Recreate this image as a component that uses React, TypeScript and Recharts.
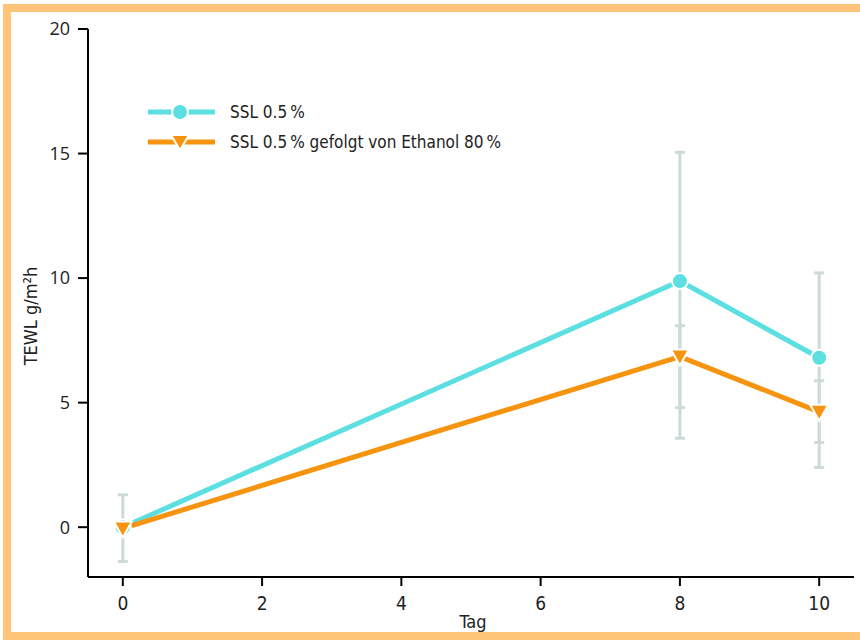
import React from 'react';
import { LineChart, Line, XAxis, YAxis, ErrorBar } from 'recharts';

const days = [0, 8, 10];
const sslValues = [0, 9.88, 6.8];
const sslErrLow = [1.38, 5.08, 3.4];
const sslErrHigh = [1.3, 5.17, 3.41];
const ethValues = [-0.05, 6.85, 4.63];
const ethErrLow = [0, 3.28, 2.23];
const ethErrHigh = [0, 1.24, 1.25];
const xTicks = [0, 2, 4, 6, 8, 10];
const yTicks = [0, 5, 10, 15, 20];
const seriesNames = ['SSL 0.5\u2009%', 'SSL 0.5\u2009% gefolgt von Ethanol 80\u2009%'];

const CYAN = '#5CDFE0';
const ORANGE = '#F7940F';
const GREY = '#CDDADA';
const BORDER = '#FEC478';
const COND = '"DejaVu Sans Condensed", "DejaVu Sans", sans-serif';

const data = days.map((d, i) => ({
  day: d,
  ssl: sslValues[i],
  eth: ethValues[i],
  sslErr: [sslErrLow[i], sslErrHigh[i]],
  ethErr: [ethErrLow[i], ethErrHigh[i]],
}));

const Triangle = (props: any) => {
  const { cx, cy } = props;
  if (cx == null || cy == null) return null;
  return (
    <polygon
      points={`${cx - 9},${cy - 7} ${cx + 9},${cy - 7} ${cx},${cy + 9}`}
      fill={ORANGE}
      stroke="#fff"
      strokeWidth={2}
    />
  );
};

const LegendBox = () => (
  <div
    style={{
      position: 'absolute',
      left: 140,
      top: 97,
      fontFamily: COND,
      fontStretch: 'condensed',
      fontSize: 17,
      color: '#222',
      whiteSpace: 'nowrap',
    }}
  >
    <div style={{ display: 'flex', alignItems: 'center', height: 30 }}>
      <svg width={90} height={24}>
        <line x1={8} y1={12} x2={75} y2={12} stroke={CYAN} strokeWidth={5} />
        <circle cx={40} cy={12} r={8} fill={CYAN} stroke="#fff" strokeWidth={2} />
      </svg>
      <span>{seriesNames[0]}</span>
    </div>
    <div style={{ display: 'flex', alignItems: 'center', height: 30 }}>
      <svg width={90} height={24}>
        <line x1={8} y1={12} x2={75} y2={12} stroke={ORANGE} strokeWidth={5} />
        <polygon points="31,5 49,5 40,20" fill={ORANGE} stroke="#fff" strokeWidth={2} />
      </svg>
      <span>{seriesNames[1]}</span>
    </div>
  </div>
);

export default function App() {
  return (
    <div style={{ position: 'absolute', left: 0, top: 0, width: 860, height: 642, overflow: 'hidden', background: '#fff' }}>
      <div
        style={{
          position: 'absolute',
          left: 3,
          top: 4,
          width: 900,
          height: 636,
          boxSizing: 'border-box',
          border: `8px solid ${BORDER}`,
        }}
      />
      <div style={{ position: 'absolute', left: 0, top: 0 }}>
        <LineChart width={860} height={642} data={data} margin={{ top: 29, right: 6, bottom: 25, left: 28 }}>
          <XAxis
            dataKey="day"
            type="number"
            domain={[-0.5, 10.5]}
            ticks={xTicks}
            allowDataOverflow
            axisLine={{ stroke: '#000', strokeWidth: 2 }}
            tickLine={{ stroke: '#000', strokeWidth: 2 }}
            tickSize={9}
            tickMargin={11}
            height={40}
            tick={{ fill: '#222', fontSize: 19, fontFamily: COND, style: { fontStretch: 'condensed' } }}
            label={(p: any) => {
              const vb = p.viewBox;
              return (
                <text
                  x={vb.x + vb.width / 2 + 2}
                  y={628}
                  textAnchor="middle"
                  fill="#222"
                  fontSize={18}
                  fontFamily={COND}
                  style={{ fontStretch: 'condensed' }}
                >
                  Tag
                </text>
              );
            }}
          />
          <YAxis
            type="number"
            domain={[-2, 20]}
            ticks={yTicks}
            allowDataOverflow
            width={60}
            axisLine={{ stroke: '#000', strokeWidth: 2 }}
            tickLine={{ stroke: '#000', strokeWidth: 2 }}
            tickSize={10}
            tickMargin={8}
            tick={{ fill: '#222', fontSize: 18, fontFamily: '"Open Sans", sans-serif' }}
            label={(p: any) => {
              const vb = p.viewBox;
              const cx = 37;
              const cy = vb.y + vb.height / 2 + 13;
              return (
                <text
                  x={cx}
                  y={cy}
                  transform={`rotate(-90, ${cx}, ${cy})`}
                  textAnchor="middle"
                  fill="#222"
                  fontSize={18}
                  fontFamily={COND}
                  style={{ fontStretch: 'condensed' }}
                >
                  TEWL g/m²h
                </text>
              );
            }}
          />
          <Line
            type="linear"
            dataKey="ssl"
            name={seriesNames[0]}
            stroke={CYAN}
            strokeWidth={5}
            dot={{ r: 8, fill: CYAN, stroke: '#fff', strokeWidth: 2 }}
            activeDot={false}
            isAnimationActive={false}
          >
            <ErrorBar dataKey="sslErr" direction="y" width={5} stroke={GREY} strokeWidth={3} />
          </Line>
          <Line
            type="linear"
            dataKey="eth"
            name={seriesNames[1]}
            stroke={ORANGE}
            strokeWidth={5}
            dot={<Triangle />}
            activeDot={false}
            isAnimationActive={false}
          >
            <ErrorBar dataKey="ethErr" direction="y" width={5} stroke={GREY} strokeWidth={3} />
          </Line>
        </LineChart>
      </div>
      <LegendBox />
    </div>
  );
}
